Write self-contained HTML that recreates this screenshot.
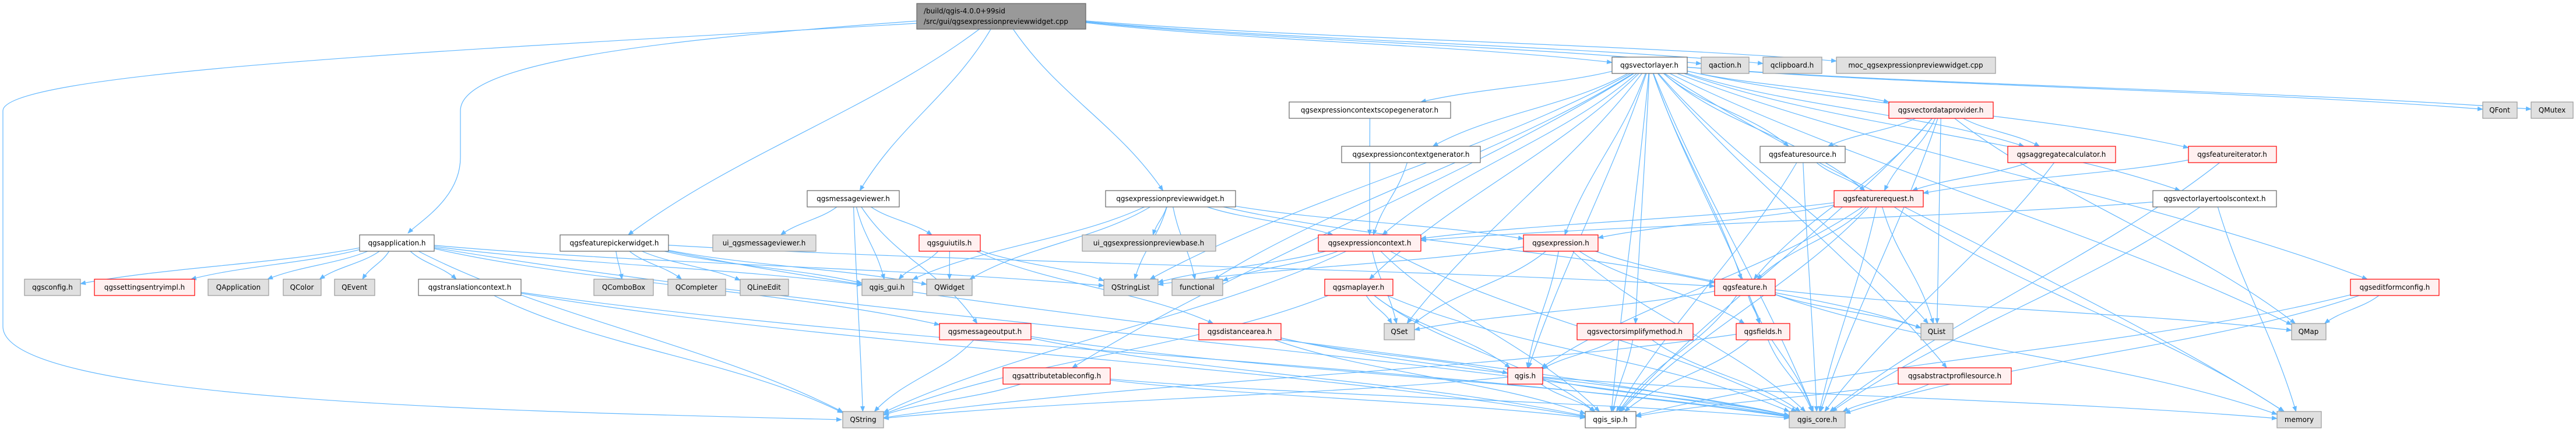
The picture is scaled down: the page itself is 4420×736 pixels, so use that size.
<!DOCTYPE html>
<html><head><meta charset="utf-8">
<style>
html,body{margin:0;padding:0;background:#fff;}
svg{display:block;}
text{font-family:"DejaVu Sans","Liberation Sans",sans-serif;font-size:12px;fill:#000;}
.w{fill:#fff;stroke:#666;stroke-width:1.2;}
.g{fill:#e0e0e0;stroke:#999;stroke-width:1.2;}
.r{fill:#fff0f0;stroke:#f00;stroke-width:1.2;}
.m{fill:#999;stroke:#666;stroke-width:1.2;}
.e{fill:none;stroke:#63b8ff;stroke-width:1.2;}
</style></head><body>
<svg id="s" width="4420" height="736" viewBox="0 0 4420 736" xmlns="http://www.w3.org/2000/svg">
<defs><marker id="a" viewBox="0 0 10 10" refX="9" refY="5" markerWidth="10" markerHeight="10" markerUnits="userSpaceOnUse" orient="auto"><path d="M0,1 L10,5 L0,9 z" fill="#63b8ff"/></marker></defs>
<g id="edges"></g>
<g id="nodes">
<rect class="m" x="1573" y="6" width="290" height="44"/><text x="1585" y="23">/build/qgis-4.0.0+99sid</text><text x="1585" y="41">/src/gui/qgsexpressionpreviewwidget.cpp</text>
<rect class="w" x="617" y="403" width="128" height="28"/><text x="681" y="421" text-anchor="middle">qgsapplication.h</text>
<rect class="g" x="42" y="479" width="96" height="28"/><text x="90" y="497" text-anchor="middle">qgsconfig.h</text>
<rect class="r" x="162" y="479" width="172" height="28"/><text x="248" y="497" text-anchor="middle">qgssettingsentryimpl.h</text>
<rect class="g" x="357" y="479" width="104" height="28"/><text x="409" y="497" text-anchor="middle">QApplication</text>
<rect class="g" x="486" y="479" width="65" height="28"/><text x="518" y="497" text-anchor="middle">QColor</text>
<rect class="g" x="574" y="479" width="69" height="28"/><text x="608" y="497" text-anchor="middle">QEvent</text>
<rect class="w" x="718" y="479" width="176" height="28"/><text x="806" y="497" text-anchor="middle">qgstranslationcontext.h</text>
<rect class="w" x="961" y="403" width="186" height="28"/><text x="1054" y="421" text-anchor="middle">qgsfeaturepickerwidget.h</text>
<rect class="g" x="1019" y="479" width="102" height="28"/><text x="1070" y="497" text-anchor="middle">QComboBox</text>
<rect class="g" x="1146" y="479" width="99" height="28"/><text x="1195" y="497" text-anchor="middle">QCompleter</text>
<rect class="g" x="1270" y="479" width="83" height="28"/><text x="1311" y="497" text-anchor="middle">QLineEdit</text>
<rect class="w" x="1385" y="327" width="158" height="28"/><text x="1464" y="345" text-anchor="middle">qgsmessageviewer.h</text>
<rect class="g" x="1223" y="403" width="177" height="28"/><text x="1311" y="421" text-anchor="middle">ui_qgsmessageviewer.h</text>
<rect class="r" x="1577" y="403" width="105" height="28"/><text x="1629" y="421" text-anchor="middle">qgsguiutils.h</text>
<rect class="g" x="1479" y="479" width="87" height="28"/><text x="1522" y="497" text-anchor="middle">qgis_gui.h</text>
<rect class="g" x="1590" y="479" width="78" height="28"/><text x="1629" y="497" text-anchor="middle">QWidget</text>
<rect class="g" x="1446" y="706" width="70" height="28"/><text x="1481" y="724" text-anchor="middle">QString</text>
<rect class="w" x="1897" y="327" width="223" height="28"/><text x="2008" y="345" text-anchor="middle">qgsexpressionpreviewwidget.h</text>
<rect class="g" x="1857" y="403" width="229" height="28"/><text x="1971" y="421" text-anchor="middle">ui_qgsexpressionpreviewbase.h</text>
<rect class="g" x="1894" y="479" width="93" height="28"/><text x="1940" y="497" text-anchor="middle">QStringList</text>
<rect class="g" x="2011" y="479" width="87" height="28"/><text x="2054" y="497" text-anchor="middle">functional</text>
<rect class="r" x="1612" y="555" width="157" height="28"/><text x="1690" y="573" text-anchor="middle">qgsmessageoutput.h</text>
<rect class="r" x="2057" y="555" width="141" height="28"/><text x="2127" y="573" text-anchor="middle">qgsdistancearea.h</text>
<rect class="r" x="1721" y="631" width="184" height="28"/><text x="1813" y="649" text-anchor="middle">qgsattributetableconfig.h</text>
<rect class="w" x="2766" y="98" width="129" height="28"/><text x="2830" y="116" text-anchor="middle">qgsvectorlayer.h</text>
<rect class="g" x="2919" y="98" width="82" height="28"/><text x="2960" y="116" text-anchor="middle">qaction.h</text>
<rect class="g" x="3025" y="98" width="101" height="28"/><text x="3075" y="116" text-anchor="middle">qclipboard.h</text>
<rect class="g" x="3151" y="98" width="273" height="28"/><text x="3287" y="116" text-anchor="middle">moc_qgsexpressionpreviewwidget.cpp</text>
<rect class="w" x="2212" y="175" width="277" height="28"/><text x="2350" y="193" text-anchor="middle">qgsexpressioncontextscopegenerator.h</text>
<rect class="w" x="2302" y="251" width="238" height="28"/><text x="2421" y="269" text-anchor="middle">qgsexpressioncontextgenerator.h</text>
<rect class="r" x="2262" y="403" width="176" height="28"/><text x="2350" y="421" text-anchor="middle">qgsexpressioncontext.h</text>
<rect class="r" x="2614" y="403" width="128" height="28"/><text x="2678" y="421" text-anchor="middle">qgsexpression.h</text>
<rect class="r" x="2273" y="479" width="117" height="28"/><text x="2331" y="497" text-anchor="middle">qgsmaplayer.h</text>
<rect class="g" x="2375" y="555" width="52" height="28"/><text x="2401" y="573" text-anchor="middle">QSet</text>
<rect class="r" x="2706" y="555" width="199" height="28"/><text x="2805" y="573" text-anchor="middle">qgsvectorsimplifymethod.h</text>
<rect class="r" x="2587" y="631" width="60" height="28"/><text x="2617" y="649" text-anchor="middle">qgis.h</text>
<rect class="w" x="2720" y="706" width="87" height="28"/><text x="2763" y="724" text-anchor="middle">qgis_sip.h</text>
<rect class="r" x="2942" y="479" width="104" height="28"/><text x="2994" y="497" text-anchor="middle">qgsfeature.h</text>
<rect class="r" x="3241" y="175" width="179" height="28"/><text x="3330" y="193" text-anchor="middle">qgsvectordataprovider.h</text>
<rect class="w" x="3020" y="251" width="146" height="28"/><text x="3093" y="269" text-anchor="middle">qgsfeaturesource.h</text>
<rect class="r" x="3445" y="251" width="185" height="28"/><text x="3537" y="269" text-anchor="middle">qgsaggregatecalculator.h</text>
<rect class="r" x="3147" y="327" width="153" height="28"/><text x="3223" y="345" text-anchor="middle">qgsfeaturerequest.h</text>
<rect class="w" x="3694" y="327" width="212" height="28"/><text x="3800" y="345" text-anchor="middle">qgsvectorlayertoolscontext.h</text>
<rect class="r" x="2979" y="555" width="92" height="28"/><text x="3025" y="573" text-anchor="middle">qgsfields.h</text>
<rect class="g" x="3296" y="555" width="55" height="28"/><text x="3323" y="573" text-anchor="middle">QList</text>
<rect class="r" x="3257" y="631" width="194" height="28"/><text x="3354" y="649" text-anchor="middle">qgsabstractprofilesource.h</text>
<rect class="g" x="3070" y="706" width="96" height="28"/><text x="3118" y="724" text-anchor="middle">qgis_core.h</text>
<rect class="g" x="4260" y="175" width="59" height="28"/><text x="4289" y="193" text-anchor="middle">QFont</text>
<rect class="g" x="4343" y="175" width="72" height="28"/><text x="4379" y="193" text-anchor="middle">QMutex</text>
<rect class="r" x="3755" y="251" width="151" height="28"/><text x="3830" y="269" text-anchor="middle">qgsfeatureiterator.h</text>
<rect class="r" x="4033" y="479" width="152" height="28"/><text x="4109" y="497" text-anchor="middle">qgseditformconfig.h</text>
<rect class="g" x="3932" y="555" width="59" height="28"/><text x="3961" y="573" text-anchor="middle">QMap</text>
<rect class="g" x="3907" y="706" width="76" height="28"/><text x="3945" y="724" text-anchor="middle">memory</text>
</g>
</svg>
<script>
(function(){
var N={
main:[1573,1863,6,50],app:[617,745,403,431],cfg:[42,138,479,507],set:[162,334,479,507],qap:[357,461,479,507],qco:[486,551,479,507],qev:[574,643,479,507],
tr:[718,894,479,507],fp:[961,1147,403,431],cb:[1019,1121,479,507],cm:[1146,1245,479,507],le:[1270,1353,479,507],mv:[1385,1543,327,355],uimv:[1223,1400,403,431],
gu:[1577,1682,403,431],gg:[1479,1566,479,507],qw:[1590,1668,479,507],qs:[1446,1516,706,734],epw:[1897,2120,327,355],uie:[1857,2086,403,431],sl:[1894,1987,479,507],
fn:[2011,2098,479,507],mo:[1612,1769,555,583],da:[2057,2198,555,583],atc:[1721,1905,631,659],vl:[2766,2895,98,126],qa:[2919,3001,98,126],qc:[3025,3126,98,126],
moc:[3151,3424,98,126],sg:[2212,2489,175,203],cg:[2302,2540,251,279],ec:[2262,2438,403,431],ex:[2614,2742,403,431],ml:[2273,2390,479,507],qset:[2375,2427,555,583],
vs:[2706,2905,555,583],qg:[2587,2647,631,659],sip:[2720,2807,706,734],fe:[2942,3046,479,507],vdp:[3241,3420,175,203],fs:[3020,3166,251,279],ag:[3445,3630,251,279],
fr:[3147,3300,327,355],ltc:[3694,3906,327,355],fld:[2979,3071,555,583],ql:[3296,3351,555,583],aps:[3257,3451,631,659],core:[3070,3166,706,734],
qf:[4260,4319,175,203],qm:[4343,4415,175,203],fi:[3755,3906,251,279],efc:[4033,4185,479,507],map:[3932,3991,555,583],mem:[3907,3983,706,734]};
var E=[
['main','mv'],['main','epw'],['main','vl'],['main','qa'],['main','qc'],['main','moc'],['main','app'],['main','fp'],['main','qs'],
['app','cfg'],['app','set'],['app','qap'],['app','qco'],['app','qev'],['app','tr'],['app','core'],['app','qs'],['app','gg'],['app','sl'],['app','mo'],
['tr','qs'],['tr','core'],['tr','sip'],
['fp','cb'],['fp','cm'],['fp','le'],['fp','gg'],['fp','qw'],['fp','fe'],['fp','core'],
['mv','uimv'],['mv','gu'],['mv','gg'],['mv','mo'],['mv','qs'],
['gu','gg'],['gu','qw'],['gu','sl'],['gu','da'],
['epw','uie'],['epw','gg'],['epw','qw'],['epw','sl'],['epw','fn'],['epw','ec'],['epw','fe'],['epw','ex'],
['mo','qs'],['mo','core'],['mo','sip'],
['da','core'],['da','sip'],['da','qg'],
['atc','qs'],['atc','core'],['atc','sip'],
['vl','sg'],['vl','cg'],['vl','ec'],['vl','ex'],['vl','ml'],['vl','qset'],['vl','vs'],['vl','qg'],['vl','sip'],['vl','core'],['vl','fe'],['vl','vdp'],['vl','fs'],
['vl','ag'],['vl','fr'],['vl','ltc'],['vl','ql'],['vl','qf'],['vl','qm'],['vl','fi'],['vl','efc'],['vl','map'],['vl','mem'],['vl','atc'],['vl','sl'],['vl','fn'],['vl','aps'],['vl','fld'],
['sg','ec'],['cg','ec'],
['ec','sl'],['ec','qset'],['ec','core'],['ec','sip'],['ec','qs'],['ec','fn'],
['ex','sl'],['ex','qset'],['ex','qg'],['ex','core'],['ex','fld'],['ex','ql'],
['ml','qset'],['ml','qg'],['ml','core'],['ml','sip'],['ml','qs'],
['vs','qg'],['vs','sip'],['vs','core'],
['qg','sip'],['qg','core'],['qg','mem'],['qg','qs'],
['fe','fld'],['fe','ql'],['fe','core'],['fe','sip'],['fe','map'],['fe','mem'],['fe','qset'],
['fld','core'],['fld','sip'],['fld','qs'],
['vdp','fs'],['vdp','fr'],['vdp','ag'],['vdp','ql'],['vdp','fe'],['vdp','core'],['vdp','map'],['vdp','sip'],
['fs','fr'],['fs','core'],['fs','sip'],
['ag','fr'],['ag','core'],
['fr','ec'],['fr','ex'],['fr','fe'],['fr','ql'],['fr','core'],['fr','sip'],['fr','mem'],['fr','qg'],
['fi','fr'],['fi','core'],
['ltc','ec'],['ltc','core'],['ltc','mem'],
['efc','map'],['efc','core'],['efc','sip'],
['aps','core'],['aps','sip']];
function clip(b,dx,dy){
 var cx=(b[0]+b[1])/2,cy=(b[2]+b[3])/2,hw=(b[1]-b[0])/2,hh=(b[3]-b[2])/2;
 var tx=dx?hw/Math.abs(dx):1e9,ty=dy?hh/Math.abs(dy):1e9,t=Math.min(tx,ty);
 return [cx+dx*t,cy+dy*t];
}
var h='';
E.forEach(function(e){
 var s=N[e[0]],t=N[e[1]],d;
 if(e[0]=='main'&&e[1]=='qs'){d='M1573,40 C900,80 5,120 5,190 L5,560 C5,690 900,706 1444,720';}
 else if(e[0]=='main'&&e[1]=='app'){d='M1573,36 C1100,70 790,110 790,190 L790,270 C790,340 720,380 700,400';}
 else {
  var scx=(s[0]+s[1])/2,scy=(s[2]+s[3])/2,tcx=(t[0]+t[1])/2,tcy=(t[2]+t[3])/2;
  var dx=tcx-scx,dy=tcy-scy;
  var p=clip(s,dx,dy),q=clip(t,-dx,-dy);
  var ux=q[0]-p[0],uy=q[1]-p[1];
  var c1x=p[0]+ux*0.3,c1y=p[1]+uy*0.3+Math.min(30,Math.abs(uy)*0.15);
  var c2x=p[0]+ux*0.7,c2y=p[1]+uy*0.7-Math.min(30,Math.abs(uy)*0.15);
  d='M'+p[0].toFixed(1)+','+p[1].toFixed(1)+' C'+c1x.toFixed(1)+','+c1y.toFixed(1)+' '+c2x.toFixed(1)+','+c2y.toFixed(1)+' '+q[0].toFixed(1)+','+q[1].toFixed(1);
 }
 h+='<path class="e" marker-end="url(#a)" d="'+d+'"/>';
});
document.getElementById('edges').innerHTML=h;
})();
</script>
</body></html>
